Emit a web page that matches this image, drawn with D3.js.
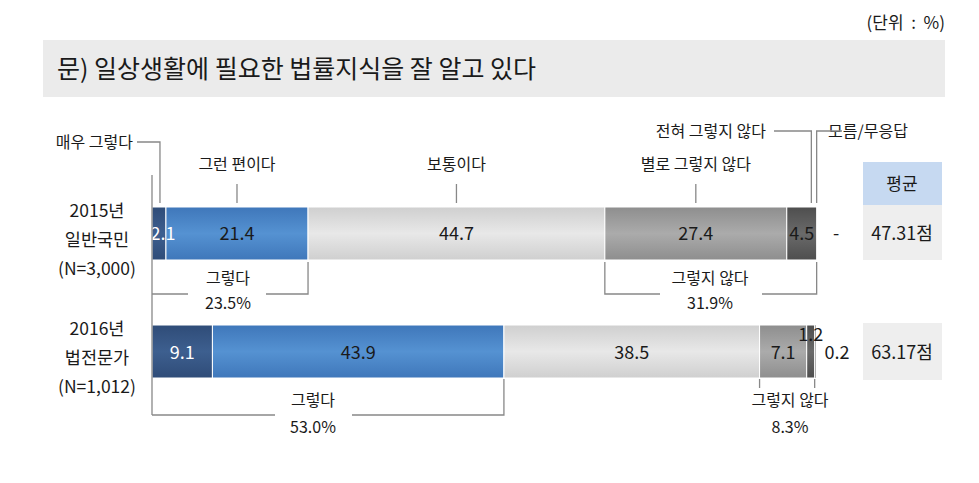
<!DOCTYPE html>
<html>
<head>
<meta charset="utf-8">
<script src="https://cdn.jsdelivr.net/npm/d3@7"></script>
<style>
  body { margin: 0; background: #fff; }
  text { font-family: 'Noto Sans CJK KR', sans-serif; fill: #1a1a1a; white-space: pre; }
</style>
</head>
<body>
<svg id="chart"></svg>
<script>
// data
const categories = ['매우 그렇다', '그런 편이다', '보통이다', '별로 그렇지 않다', '전혀 그렇지 않다', '모름/무응답'];
const groups = ['2015', '2016'];
const groupLabels = [['2015년', '일반국민', '(N=3,000)'], ['2016년', '법전문가', '(N=1,012)']];
const values2015 = [2.1, 21.4, 44.7, 27.4, 4.5, 0];
const values2016 = [9.1, 43.9, 38.5, 7.1, 1.2, 0.2];
const valueText2015 = ['2.1', '21.4', '44.7', '27.4', '4.5', '-'];
const valueText2016 = ['9.1', '43.9', '38.5', '7.1', '1.2', '0.2'];
const agreeTotals = ['23.5%', '53.0%'];
const disagreeTotals = ['31.9%', '8.3%'];
const means = ['47.31점', '63.17점'];

const colors = [
    ['#2f4c78', '#3d5f8f'],
    ['#3f77ba', '#5592d2'],
    ['#cfcfcf', '#e8e8e8'],
    ['#8e8e8e', '#ababab'],
    ['#4e4e4e', '#6a6a6a'],
    ['#3a3a3a', '#555555']
];

const width = 979, height = 483;
const svg = d3.select('#chart').attr('width', width).attr('height', height);

const x = d3.scaleLinear().domain([0, 100]).range([152, 816]);
const y = d3.scaleBand().domain(groups).range([207, 378]).paddingInner(0.551);
const bh = y.bandwidth();

// gradients
const defs = svg.append('defs');
colors.forEach((c, i) => {
    const g = defs.append('linearGradient').attr('id', 'g' + i)
        .attr('x1', 0).attr('y1', 0).attr('x2', 0).attr('y2', 1);
    g.append('stop').attr('offset', '0%').attr('stop-color', c[0]);
    g.append('stop').attr('offset', '50%').attr('stop-color', c[1]);
    g.append('stop').attr('offset', '100%').attr('stop-color', c[0]);
});

// unit + title box
svg.append('text').attr('x', 945).attr('y', 29).attr('text-anchor', 'end')
    .attr('font-size', 17).text('(단위  :  %)');
svg.append('rect').attr('x', 43).attr('y', 40).attr('width', 902).attr('height', 57).attr('fill', '#ebebeb');
svg.append('text').attr('x', 57).attr('y', 78).attr('font-size', 25).text('문) 일상생활에 필요한 법률지식을 잘 알고 있다');

// stacked bars
function stack(vals) {
    let acc = 0;
    return vals.map((v, i) => { const s = acc; acc += v; return {i: i, v: v, x0: s, x1: acc}; });
}
const rows = [
    {key: '2015', segs: stack(values2015), txt: valueText2015},
    {key: '2016', segs: stack(values2016), txt: valueText2016}
];

rows.forEach(r => {
    const g = svg.append('g');
    g.selectAll('rect').data(r.segs.filter(d => d.v > 0)).join('rect')
        .attr('x', d => x(d.x0))
        .attr('y', y(r.key))
        .attr('width', d => x(d.x1) - x(d.x0))
        .attr('height', bh)
        .attr('fill', d => `url(#g${d.i})`)
        .attr('stroke', '#fff')
        .attr('stroke-width', 1);
});

// value labels
const cy1 = y('2015') + bh / 2 + 7, cy2 = y('2016') + bh / 2 + 7;
const s1 = rows[0].segs, s2 = rows[1].segs;
const mid = d => x((d.x0 + d.x1) / 2);
function label(px, py, t, col) {
    svg.append('text').attr('x', px).attr('y', py).attr('text-anchor', 'middle')
        .attr('font-size', 18).style('fill', col || '#1a1a1a').text(t);
}
label(mid(s1[0]) + 4, cy1, valueText2015[0], '#fff');
[1, 2, 3, 4].forEach(i => label(mid(s1[i]), cy1, valueText2015[i]));
label(x(100) + 20, cy1, valueText2015[5]);
label(mid(s2[0]), cy2, valueText2016[0], '#fff');
[1, 2, 3].forEach(i => label(mid(s2[i]), cy2, valueText2016[i]));
label(mid(s2[4]), y('2016') + 16, valueText2016[4]);
label(x(100) + 21, cy2, valueText2016[5]);

// group labels on the left
groupLabels.forEach((ls, gi) => {
    ls.forEach((t, li) => {
        svg.append('text').attr('x', 97).attr('y', y(groups[gi]) + 10 + li * 29)
            .attr('text-anchor', 'middle').attr('font-size', 17.5).text(t);
    });
});

const line = d3.line();
const stroke = p => svg.append('path').attr('d', line(p)).attr('fill', 'none')
    .attr('stroke', '#888').attr('stroke-width', 1.3);

// axis line
stroke([[x(0), 175], [x(0), 415]]);

// category callouts for 2015 row
const barTop = y('2015') - 4;
const ann = 16;
function annText(px, py, t, anchor) {
    svg.append('text').attr('x', px).attr('y', py).attr('text-anchor', anchor || 'middle')
        .attr('font-size', ann).text(t);
}
annText(133, 148, categories[0], 'end');
stroke([[137, 142], [mid(s1[0]) + 1, 142], [mid(s1[0]) + 1, barTop]]);
[1, 2, 3].forEach(i => {
    annText(mid(s1[i]), 170, categories[i]);
    stroke([[mid(s1[i]), 184], [mid(s1[i]), barTop]]);
});
annText(766, 137, categories[4], 'end');
stroke([[774, 131], [x(99.3), 131], [x(99.3), barTop]]);
annText(828, 137, categories[5], 'start');
stroke([[842, 131], [x(100.1), 131], [x(100.1), barTop]]);

// mean boxes
svg.append('rect').attr('x', 863).attr('y', 162).attr('width', 79).attr('height', 43).attr('fill', '#c6d9f1');
svg.append('text').attr('x', 902).attr('y', 190).attr('text-anchor', 'middle').attr('font-size', 17).text('평균');
means.forEach((m, i) => {
    const yy = i === 0 ? 205 : y('2016') - 2;
    const hh = i === 0 ? 55 : 57;
    svg.append('rect').attr('x', 863).attr('y', yy).attr('width', 79).attr('height', hh).attr('fill', '#eeeeee');
    svg.append('text').attr('x', 902).attr('y', (i === 0 ? cy1 : cy2)).attr('text-anchor', 'middle')
        .attr('font-size', 18).text(m);
});

// brackets for sums
const b1 = y('2015') + bh;
const by1 = b1 + 34;
stroke([[x(0), by1], [188, by1]]);
stroke([[266, by1], [x(s1[1].x1), by1], [x(s1[1].x1), b1 + 2]]);
annText(228, 284, '그렇다');
annText(228, 309, agreeTotals[0]);
stroke([[x(s1[3].x0), b1 + 2], [x(s1[3].x0), by1], [660, by1]]);
stroke([[762, by1], [x(100.1), by1], [x(100.1), b1 + 2]]);
annText(710, 284, '그렇지 않다');
annText(710, 309, disagreeTotals[0]);

const b2 = y('2016') + bh;
const by2 = b2 + 37;
stroke([[x(0), by2], [275, by2]]);
stroke([[352, by2], [x(s2[1].x1), by2], [x(s2[1].x1), b2 + 1]]);
annText(313, 406, '그렇다');
annText(313, 433, agreeTotals[1]);
stroke([[x(s2[3].x0), b2 + 1], [x(s2[3].x0), b2 + 10]]);
stroke([[x(s2[4].x1), b2 + 1], [x(s2[4].x1), b2 + 10]]);
annText(790, 406, '그렇지 않다');
annText(790, 433, disagreeTotals[1]);
</script>
</body>
</html>
